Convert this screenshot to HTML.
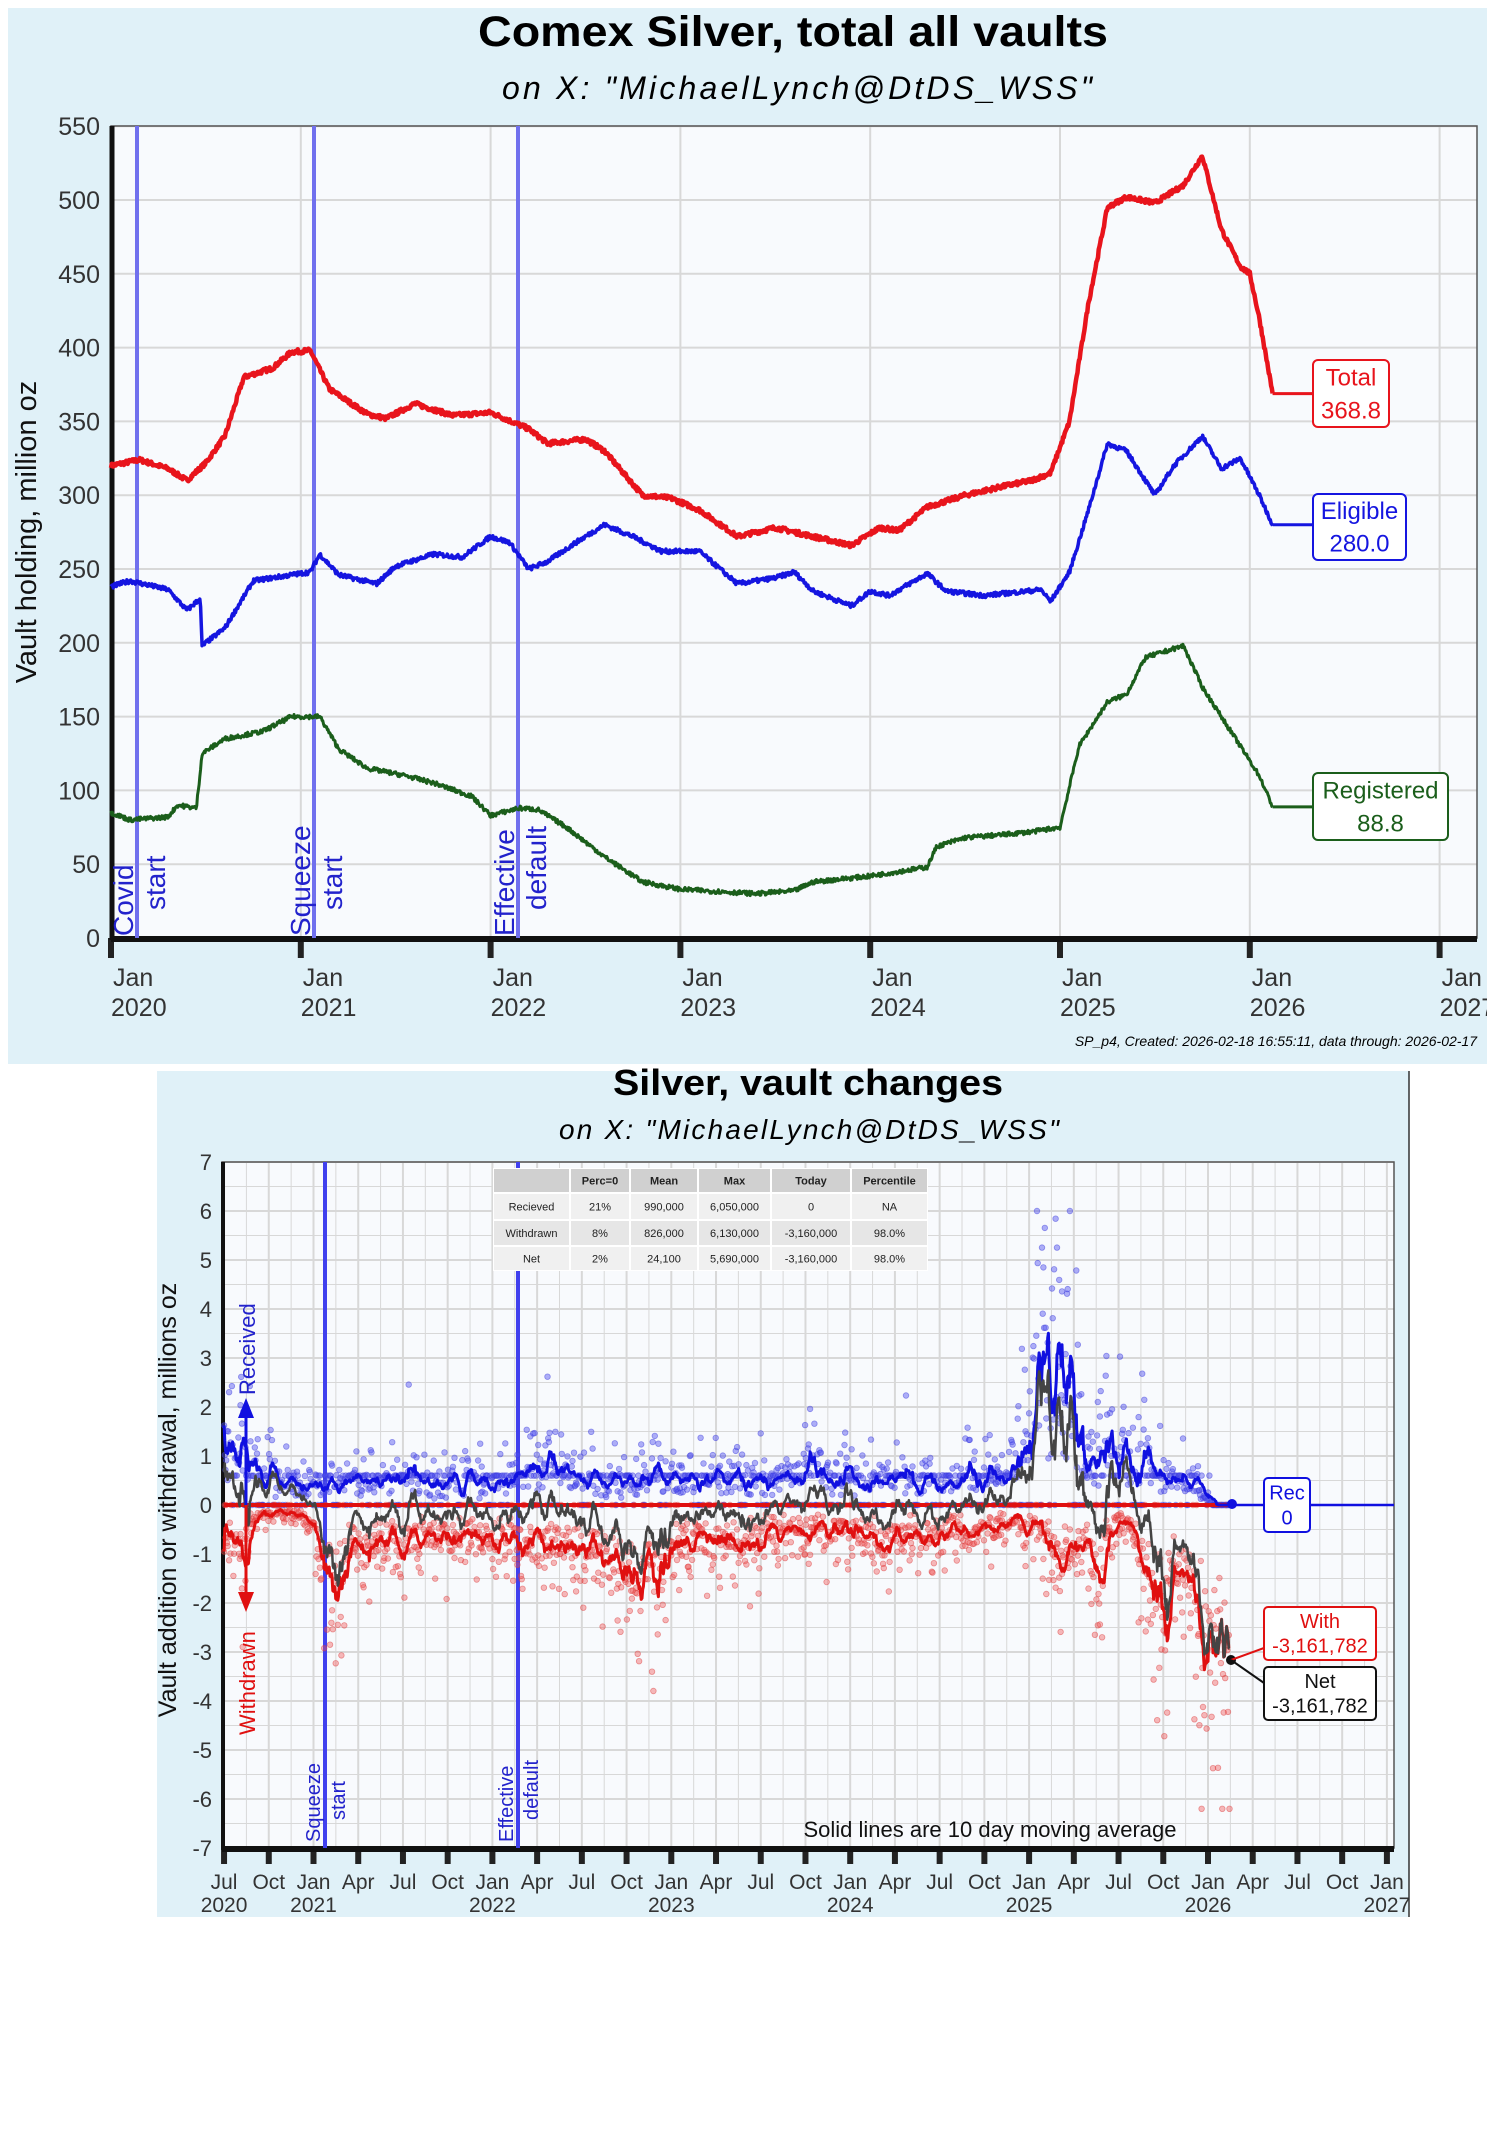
<!DOCTYPE html>
<html><head><meta charset="utf-8">
<style>
body{margin:0;background:#fff;width:1487px;height:2135px;overflow:hidden;font-family:"Liberation Sans",sans-serif}
svg{position:absolute;left:0;top:0}
</style></head>
<body>
<svg id="s" width="1487" height="2135" xmlns="http://www.w3.org/2000/svg" font-family="Liberation Sans, sans-serif">
<defs><clipPath id="cp2"><rect x="157" y="1071" width="1252" height="846"/></clipPath></defs>
<rect x="8" y="8" width="1479" height="1056" fill="#e0f1f8"/>
<rect x="157" y="1071" width="1252" height="846" fill="#e0f1f8"/>
<line x1="1409" y1="1071" x2="1409" y2="1917" stroke="#333" stroke-width="1.5"/>
<rect x="111" y="126" width="1366" height="812" fill="#f8fafd"/>
<rect x="222" y="1162" width="1172" height="686" fill="#f8fafd"/>
<g id="g1"></g>
<g id="g2" clip-path="url(#cp2)"></g>
<text x="793" y="46" font-size="43" font-weight="bold" text-anchor="middle" textLength="630" lengthAdjust="spacingAndGlyphs">Comex Silver, total all vaults</text>
<text x="797" y="99" font-size="32" font-style="italic" text-anchor="middle" textLength="590" lengthAdjust="spacing">on X:    "MichaelLynch@DtDS_WSS"</text>
<text x="1477" y="1046" font-size="14" font-style="italic" text-anchor="end">SP_p4, Created: 2026-02-18 16:55:11, data through: 2026-02-17</text>
<text x="808" y="1095" font-size="36" font-weight="bold" text-anchor="middle" textLength="390" lengthAdjust="spacingAndGlyphs">Silver, vault changes</text>
<text x="809" y="1139" font-size="28" font-style="italic" text-anchor="middle" textLength="500" lengthAdjust="spacing">on X:    "MichaelLynch@DtDS_WSS"</text>
</svg>
<script>
var NS="http://www.w3.org/2000/svg";
function el(p,t,a,txt){var e=document.createElementNS(NS,t);for(var k in a)e.setAttribute(k,a[k]);if(txt!==undefined)e.textContent=txt;p.appendChild(e);return e;}
var g1=document.getElementById('g1'),g2=document.getElementById('g2');
var seed=7;function rnd(){seed=(seed*16807)%2147483647;return (seed-1)/2147483646;}
function gauss(){return (rnd()+rnd()+rnd()+rnd()-2)*1.2;}
function interp(k,t){if(t<=k[0][0])return k[0][1];for(var i=1;i<k.length;i++){if(t<=k[i][0]){var a=k[i-1],b=k[i];return a[1]+(b[1]-a[1])*(t-a[0])/(b[0]-a[0]);}}return k[k.length-1][1];}
// ===== top chart =====
var X1=function(t){return 111+(t-2020)*189.8;},Y1=function(v){return 938-v*1.476;};
for(var v=0;v<=550;v+=50){el(g1,'line',{x1:111,x2:1477,y1:Y1(v),y2:Y1(v),stroke:'#d8d8d8','stroke-width':2});
 el(g1,'text',{x:100,y:Y1(v)+9,'font-size':25,'text-anchor':'end',fill:'#333'},v);}
for(var y=2020;y<=2027;y++){var x=X1(y);el(g1,'line',{x1:x,x2:x,y1:126,y2:938,stroke:'#d8d8d8','stroke-width':2});
 el(g1,'line',{x1:x,x2:x,y1:938,y2:958,stroke:'#222','stroke-width':6});
 el(g1,'text',{x:x+2,y:986,'font-size':25,fill:'#333'},'Jan');el(g1,'text',{x:x,y:1016,'font-size':25,fill:'#333'},y);}
el(g1,'rect',{x:111,y:126,width:1366,height:812,fill:'none',stroke:'#555','stroke-width':1.5});
el(g1,'line',{x1:111,x2:1477,y1:939,y2:939,stroke:'#111','stroke-width':6});
el(g1,'line',{x1:112,x2:112,y1:126,y2:940,stroke:'#111','stroke-width':5});
el(g1,'text',{x:0,y:0,'font-size':29,fill:'#111',transform:'translate(36,532) rotate(-90)','text-anchor':'middle'},'Vault holding, million oz');
var vl=[[137,'Covid','start'],[314,'Squeeze','start'],[518,'Effective','default']];
vl.forEach(function(v){el(g1,'line',{x1:v[0],x2:v[0],y1:126,y2:938,stroke:'#7070ee','stroke-width':4});
 el(g1,'text',{transform:'translate('+(v[0]-4)+',936) rotate(-90)','font-size':28,fill:'#2222cc'},v[1]);
 el(g1,'text',{transform:'translate('+(v[0]+28)+',910) rotate(-90)','font-size':28,fill:'#2222cc'},v[2]);});
var TOT=[[2020,320],[2020.15,324],[2020.3,318],[2020.4,310],[2020.5,322],[2020.6,340],[2020.7,380],[2020.85,386],[2020.95,397],[2021.05,398],[2021.15,372],[2021.35,355],[2021.45,352],[2021.6,362],[2021.8,354],[2022,356],[2022.2,345],[2022.3,335],[2022.5,338],[2022.6,330],[2022.8,300],[2022.95,298],[2023.1,290],[2023.3,272],[2023.5,278],[2023.7,272],[2023.9,266],[2024.05,278],[2024.15,276],[2024.3,292],[2024.5,300],[2024.7,306],[2024.85,310],[2024.95,315],[2025.05,350],[2025.15,430],[2025.25,495],[2025.35,502],[2025.5,498],[2025.65,510],[2025.75,530],[2025.85,480],[2025.95,455],[2026.0,450],[2026.05,420],[2026.12,369]];
var ELI=[[2020,238],[2020.1,242],[2020.3,236],[2020.4,222],[2020.47,230],[2020.48,198],[2020.6,210],[2020.75,242],[2020.9,245],[2021.05,248],[2021.1,260],[2021.2,246],[2021.4,240],[2021.5,252],[2021.7,260],[2021.85,258],[2022,272],[2022.1,268],[2022.2,250],[2022.3,255],[2022.45,268],[2022.6,280],[2022.75,272],[2022.9,262],[2023.1,262],[2023.3,240],[2023.5,244],[2023.6,248],[2023.7,235],[2023.9,225],[2024,235],[2024.1,232],[2024.3,247],[2024.4,235],[2024.6,232],[2024.9,236],[2024.95,228],[2025.05,248],[2025.15,290],[2025.25,335],[2025.35,330],[2025.5,300],[2025.6,320],[2025.75,340],[2025.85,318],[2025.95,325],[2026.05,300],[2026.12,280]];
var REG=[[2020,85],[2020.1,80],[2020.3,82],[2020.35,90],[2020.45,88],[2020.48,125],[2020.6,135],[2020.8,140],[2020.95,150],[2021.1,150],[2021.2,128],[2021.35,115],[2021.55,110],[2021.7,105],[2021.9,96],[2022,83],[2022.15,88],[2022.25,87],[2022.4,75],[2022.6,55],[2022.8,38],[2023,33],[2023.4,30],[2023.6,32],[2023.7,38],[2024,42],[2024.3,48],[2024.35,62],[2024.5,68],[2024.7,70],[2024.85,72],[2025,75],[2025.1,130],[2025.25,160],[2025.35,165],[2025.45,190],[2025.65,198],[2025.75,170],[2025.85,150],[2025.95,130],[2026.05,110],[2026.12,89]];
function series(k,col,w){var p='';for(var t=2020;t<=2026.12;t+=0.004){var v=interp(k,t)+(rnd()-0.5)*3;p+=(p?'L':'M')+X1(t).toFixed(1)+','+Y1(v).toFixed(1);}
 el(g1,'path',{d:p,fill:'none',stroke:col,'stroke-width':w,'stroke-linejoin':'round'});}
series(TOT,'#e8141c',4.5);series(ELI,'#1515e0',3.5);series(REG,'#1b5e1b',3);
function lab(col,x,y,w,h,t1,t2,ly){el(g1,'line',{x1:X1(2026.12),x2:x,y1:ly,y2:ly,stroke:col,'stroke-width':3});
 el(g1,'rect',{x:x,y:y,width:w,height:h,rx:5,fill:'#fff',stroke:col,'stroke-width':2});
 el(g1,'text',{x:x+w/2,y:y+h*0.38,'font-size':24,'text-anchor':'middle',fill:col},t1);
 el(g1,'text',{x:x+w/2,y:y+h*0.87,'font-size':24,'text-anchor':'middle',fill:col},t2);}
lab('#e8141c',1313,360,76,67,'Total','368.8',Y1(368.8));
lab('#1515e0',1313,494,93,66,'Eligible','280.0',Y1(280));
lab('#1b5e1b',1313,773,135,67,'Registered','88.8',Y1(88.8));
// ===== bottom chart =====
var X2=function(t){return 313.5+(t-2021)*178.9;},Y2=function(v){return 1505-v*49;};
for(var v=-7;v<=7;v+=0.5){el(g2,'line',{x1:222,x2:1394,y1:Y2(v),y2:Y2(v),stroke:'#d8d8d8','stroke-width':v%1===0?2:1});
 if(v%1===0)el(g2,'text',{x:212,y:Y2(v)+8,'font-size':22,'text-anchor':'end',fill:'#333'},v);}
var ml=['Jan','Apr','Jul','Oct'];
for(var q=2020.5;q<=2027.01;q+=0.125){var x=X2(q);el(g2,'line',{x1:x,x2:x,y1:1162,y2:1848,stroke:'#d8d8d8','stroke-width':(q*4)%1===0?2:1});}
for(var q=2020.5;q<=2027.01;q+=0.25){var x=X2(q);el(g2,'line',{x1:x,x2:x,y1:1848,y2:1864,stroke:'#222','stroke-width':6});
 var m=ml[Math.round((q%1)*4)];el(g2,'text',{x:x,y:1889,'font-size':21,'text-anchor':'middle',fill:'#333'},m);
 if(m==='Jan'||q===2020.5)el(g2,'text',{x:x,y:1912,'font-size':21,'text-anchor':'middle',fill:'#333'},Math.floor(q));}
el(g2,'rect',{x:222,y:1162,width:1172,height:686,fill:'none',stroke:'#555','stroke-width':1.5});
el(g2,'line',{x1:222,x2:1394,y1:1849,y2:1849,stroke:'#111','stroke-width':6});
el(g2,'line',{x1:223,x2:223,y1:1162,y2:1850,stroke:'#111','stroke-width':4});
el(g2,'line',{x1:222,x2:1394,y1:1505,y2:1505,stroke:'#222','stroke-width':2});
el(g2,'text',{transform:'translate(176,1500) rotate(-90)','font-size':25,'text-anchor':'middle',fill:'#111'},'Vault addition or withdrawal, millions oz');
[[325,'Squeeze','start'],[518,'Effective','default']].forEach(function(v){el(g2,'line',{x1:v[0],x2:v[0],y1:1162,y2:1848,stroke:'#4040ee','stroke-width':4});
 el(g2,'text',{transform:'translate('+(v[0]-5)+',1842) rotate(-90)','font-size':20,fill:'#2222cc'},v[1]);
 el(g2,'text',{transform:'translate('+(v[0]+20)+',1820) rotate(-90)','font-size':20,fill:'#2222cc'},v[2]);});
var RM=[[2020.5,1.2],[2020.6,1.6],[2020.7,0.7],[2020.9,0.4],[2021,0.5],[2021.3,0.6],[2021.5,0.5],[2021.9,0.4],[2022.2,0.7],[2022.4,0.9],[2022.6,0.5],[2023.5,0.6],[2024.5,0.6],[2024.8,0.7],[2025.0,1.8],[2025.1,3.2],[2025.2,2.0],[2025.3,0.9],[2025.5,1.1],[2025.8,0.6],[2025.95,0.4],[2026.02,0.05],[2026.12,0]];
var WM=[[2020.5,0.7],[2020.6,1.0],[2020.7,0.2],[2020.95,0.3],[2021.0,0.6],[2021.1,1.7],[2021.2,0.9],[2021.6,0.6],[2022.1,0.7],[2022.4,0.9],[2022.9,1.2],[2023.1,0.8],[2023.5,0.6],[2024.5,0.6],[2024.9,0.5],[2025.2,1.0],[2025.4,1.2],[2025.55,0.3],[2025.65,1.5],[2025.75,2.6],[2025.85,1.2],[2025.95,2.2],[2026.05,2.8],[2026.12,3.2]];
var ts=[],rv=[],wv=[],mr=1,mw=1;
for(var t=2020.5;t<=2026.12;t+=1/250){ts.push(t);
 mr+=(rnd()-0.5)*0.25+(1-mr)*0.08; mw+=(rnd()-0.5)*0.25+(1-mw)*0.08;
 if(mr<0.2)mr=0.2;if(mw<0.2)mw=0.2;
 var rm=interp(RM,t)*mr,wm=interp(WM,t)*mw;
 var r=rnd()<0.78?rm*Math.exp(gauss()*0.7):0;
 if(rnd()<0.25&&rm<1.2)r=0.6;
 var w=rnd()<0.9?wm*Math.exp(gauss()*0.6):0;
 if(t>2026.02)r=0;rv.push(Math.min(r,6));wv.push(-Math.min(w,6.2));}
function ma(a){var o=[];for(var i=0;i<a.length;i++){var s=0,n=0;for(var j=Math.max(0,i-9);j<=i;j++){s+=a[j];n++;}o.push(s/n);}return o;}
for(var i=0;i<ts.length;i++){var x=X2(ts[i]).toFixed(1);
 el(g2,'circle',{cx:x,cy:Y2(rv[i]).toFixed(1),r:2.8,fill:'rgba(80,80,240,0.45)',stroke:'rgba(60,60,220,0.5)','stroke-width':0.8});
 el(g2,'circle',{cx:x,cy:Y2(wv[i]).toFixed(1),r:2.8,fill:'rgba(240,80,80,0.4)',stroke:'rgba(220,60,60,0.5)','stroke-width':0.8});}
el(g2,'line',{x1:X2(2020.5),x2:X2(2026.12),y1:1505,y2:1505,stroke:'#e01010','stroke-width':4});
var rma=ma(rv),wma=ma(wv),nma=rma.map(function(v,i){return v+wma[i];});
function pl(a,col,w){var p='';for(var i=0;i<a.length;i++)p+=(p?'L':'M')+X2(ts[i]).toFixed(1)+','+Y2(a[i]).toFixed(1);el(g2,'path',{d:p,fill:'none',stroke:col,'stroke-width':w,'stroke-linejoin':'round'});}
pl(wma,'#e01010',3);pl(rma,'#1010e0',3);pl(nma,'#444',2.5);
el(g2,'line',{x1:X2(2026.12),x2:1394,y1:1505,y2:1505,stroke:'#1010e0','stroke-width':2.5});
el(g2,'circle',{cx:1232,cy:1504,r:5,fill:'#1010e0'});
el(g2,'circle',{cx:1231,cy:1660,r:5,fill:'#111'});
el(g2,'line',{x1:246,x2:246,y1:1505,y2:1410,stroke:'#1010e0','stroke-width':3});
el(g2,'polygon',{points:'238,1418 254,1418 246,1398',fill:'#1010e0'});
el(g2,'line',{x1:246,x2:246,y1:1505,y2:1600,stroke:'#e01010','stroke-width':3});
el(g2,'polygon',{points:'238,1592 254,1592 246,1612',fill:'#e01010'});
el(g2,'text',{transform:'translate(255,1395) rotate(-90)','font-size':22,fill:'#2222cc'},'Received');
el(g2,'text',{transform:'translate(255,1735) rotate(-90)','font-size':22,fill:'#e01010'},'Withdrawn');
el(g2,'text',{x:990,y:1837,'font-size':22,'text-anchor':'middle',fill:'#111'},'Solid lines are 10 day moving average');
function box(x,y,w,h,col,t1,t2){el(g2,'rect',{x:x,y:y,width:w,height:h,rx:4,fill:'#fff',stroke:col,'stroke-width':2});
 el(g2,'text',{x:x+w/2,y:y+h*0.4,'font-size':20,'text-anchor':'middle',fill:col},t1);
 el(g2,'text',{x:x+w/2,y:y+h*0.86,'font-size':20,'text-anchor':'middle',fill:col},t2);}
el(g2,'line',{x1:1232,x2:1264,y1:1505,y2:1505,stroke:'#1010e0','stroke-width':2});
box(1264,1478,46,54,'#1010e0','Rec','0');
el(g2,'line',{x1:1231,x2:1264,y1:1660,y2:1648,stroke:'#e01010','stroke-width':2});
el(g2,'line',{x1:1231,x2:1264,y1:1660,y2:1683,stroke:'#111','stroke-width':2});
box(1264,1607,112,53,'#e01010','With','-3,161,782');
box(1264,1667,112,53,'#111','Net','-3,161,782');
var cx=[493,570,630,698,771,851,928],ry=[1168,1193,1220,1246,1271];
var rows=[['','Perc=0','Mean','Max','Today','Percentile'],['Recieved','21%','990,000','6,050,000','0','NA'],['Withdrawn','8%','826,000','6,130,000','-3,160,000','98.0%'],['Net','2%','24,100','5,690,000','-3,160,000','98.0%']];
el(g2,'rect',{x:493,y:1168,width:435,height:103,fill:'#fff'});
for(var r=0;r<4;r++)for(var c=0;c<6;c++){el(g2,'rect',{x:cx[c]+1,y:ry[r]+1,width:cx[c+1]-cx[c]-2,height:ry[r+1]-ry[r]-2,fill:r===0?'#d0d0d0':(r%2?'#f0f0f0':'#e6e6e6')});
 el(g2,'text',{x:(cx[c]+cx[c+1])/2,y:(ry[r]+ry[r+1])/2+4,'font-size':11,'text-anchor':'middle',fill:'#222','font-weight':r===0?'bold':'normal'},rows[r][c]);}
</script>
</body></html>
